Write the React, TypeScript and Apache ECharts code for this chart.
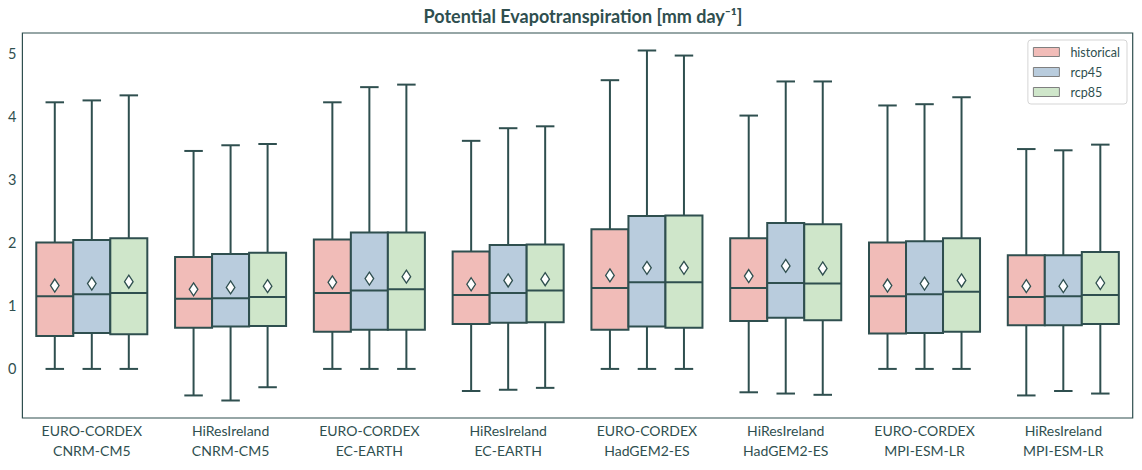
import React, { useEffect, useRef } from 'react';
import * as echarts from 'echarts';

const categories = [
  'EURO-CORDEX\nCNRM-CM5',
  'HiResIreland\nCNRM-CM5',
  'EURO-CORDEX\nEC-EARTH',
  'HiResIreland\nEC-EARTH',
  'EURO-CORDEX\nHadGEM2-ES',
  'HiResIreland\nHadGEM2-ES',
  'EURO-CORDEX\nMPI-ESM-LR',
  'HiResIreland\nMPI-ESM-LR',
];

const hues = ['historical', 'rcp45', 'rcp85'];
const hueColors = ['#f1bcb8', '#b9ccdd', '#cfe6ca'];

// [lower whisker, q1, median, q3, upper whisker]
const historicalBoxes = [
  [0.0, 0.52, 1.15, 2.0, 4.22],
  [-0.42, 0.65, 1.11, 1.77, 3.45],
  [0.0, 0.59, 1.2, 2.05, 4.22],
  [-0.35, 0.71, 1.17, 1.86, 3.61],
  [0.0, 0.62, 1.28, 2.21, 4.57],
  [-0.37, 0.76, 1.28, 2.07, 4.01],
  [0.0, 0.56, 1.15, 2.0, 4.17],
  [-0.42, 0.69, 1.14, 1.8, 3.48],
];
const rcp45Boxes = [
  [0.0, 0.57, 1.18, 2.04, 4.25],
  [-0.5, 0.67, 1.12, 1.82, 3.54],
  [0.0, 0.62, 1.24, 2.16, 4.46],
  [-0.33, 0.73, 1.2, 1.96, 3.81],
  [0.0, 0.67, 1.37, 2.42, 5.04],
  [-0.39, 0.81, 1.36, 2.31, 4.55],
  [0.0, 0.57, 1.18, 2.02, 4.19],
  [-0.35, 0.69, 1.15, 1.8, 3.46],
];
const rcp85Boxes = [
  [0.0, 0.55, 1.2, 2.07, 4.33],
  [-0.29, 0.68, 1.14, 1.84, 3.56],
  [0.0, 0.62, 1.26, 2.16, 4.5],
  [-0.3, 0.74, 1.24, 1.97, 3.84],
  [0.0, 0.65, 1.37, 2.43, 4.96],
  [-0.41, 0.77, 1.35, 2.29, 4.55],
  [0.0, 0.59, 1.22, 2.07, 4.3],
  [-0.39, 0.71, 1.17, 1.85, 3.55],
];

const historicalMeans = [1.32, 1.26, 1.37, 1.34, 1.48, 1.47, 1.32, 1.31];
const rcp45Means = [1.35, 1.29, 1.43, 1.4, 1.6, 1.63, 1.35, 1.31];
const rcp85Means = [1.38, 1.31, 1.46, 1.42, 1.6, 1.59, 1.4, 1.36];

const yMin = -0.777;
const yMax = 5.317;

const LINE = '#2f4f4f';
const FONT = 'Lato, "Noto Sans", sans-serif';

const boxSets = [historicalBoxes, rcp45Boxes, rcp85Boxes];
const meanSets = [historicalMeans, rcp45Means, rcp85Means];

function makeSeries(hueIdx: number) {
  const boxes = boxSets[hueIdx];
  const means = meanSets[hueIdx];
  const data = categories.map((_, i) => [i, ...boxes[i], means[i]]);
  return {
    type: 'custom',
    name: hues[hueIdx],
    itemStyle: { color: hueColors[hueIdx] },
    encode: { x: 0, y: [1, 2, 3, 4, 5, 6] },
    data,
    renderItem: (params: any, api: any) => {
      const cat = api.value(0);
      const lo = api.value(1);
      const q1 = api.value(2);
      const med = api.value(3);
      const q3 = api.value(4);
      const hi = api.value(5);
      const mean = api.value(6);
      const band = api.size([1, 0])[0];
      const bw = (band * 0.8) / hues.length;
      const cx = api.coord([cat, 0])[0] + (hueIdx - (hues.length - 1) / 2) * bw;
      const y = (v: number) => api.coord([cat, v])[1];
      const stroke = { stroke: LINE, lineWidth: 2 };
      const cap = bw / 4;
      const yq1 = y(q1);
      const yq3 = y(q3);
      const ym = y(mean);
      const dw = 4.3;
      const dh = 6.5;
      return {
        type: 'group',
        children: [
          { type: 'line', shape: { x1: cx, y1: yq1, x2: cx, y2: y(lo) }, style: stroke },
          { type: 'line', shape: { x1: cx, y1: yq3, x2: cx, y2: y(hi) }, style: stroke },
          { type: 'line', shape: { x1: cx - cap, y1: y(lo), x2: cx + cap, y2: y(lo) }, style: stroke },
          { type: 'line', shape: { x1: cx - cap, y1: y(hi), x2: cx + cap, y2: y(hi) }, style: stroke },
          {
            type: 'rect',
            shape: { x: cx - bw / 2, y: yq3, width: bw, height: yq1 - yq3 },
            style: { fill: hueColors[hueIdx], stroke: LINE, lineWidth: 2 },
          },
          { type: 'line', shape: { x1: cx - bw / 2, y1: y(med), x2: cx + bw / 2, y2: y(med) }, style: stroke },
          {
            type: 'polygon',
            shape: {
              points: [
                [cx, ym - dh],
                [cx + dw, ym],
                [cx, ym + dh],
                [cx - dw, ym],
              ],
            },
            style: { fill: '#ffffff', stroke: LINE, lineWidth: 1.3 },
          },
        ],
      };
    },
  };
}

export default function App() {
  const ref = useRef<HTMLDivElement>(null);
  useEffect(() => {
    document.body.style.margin = '0';
    if (!ref.current) return;
    const chart = echarts.init(ref.current, null, { renderer: 'svg' });
    chart.setOption({
      animation: false,
      backgroundColor: '#ffffff',
      title: {
        text: 'Potential Evapotranspiration [mm day\u207B\u00B9]',
        left: 578,
        textAlign: 'center',
        top: 2,
        textStyle: { fontFamily: FONT, fontSize: 18, fontWeight: 'bold', color: LINE },
      },
      legend: {
        orient: 'vertical',
        right: 15,
        top: 40,
        icon: 'rect',
        itemWidth: 26,
        itemHeight: 9,
        itemGap: 6,
        padding: [5, 7, 5, 5],
        backgroundColor: '#ffffff',
        borderColor: '#d5d5d5',
        borderWidth: 1,
        borderRadius: 3,
        textStyle: { fontFamily: FONT, fontSize: 12.5, color: LINE, lineHeight: 14, padding: [0, 0, 0, 6] },
        data: hues.map((h, i) => ({
          name: h,
          itemStyle: { color: hueColors[i], borderColor: '#7f7f7f', borderWidth: 1 },
        })),
      },
      grid: {
        left: 22.4,
        right: 9.3,
        top: 33,
        bottom: 52,
        show: true,
        borderColor: LINE,
        borderWidth: 1.2,
        backgroundColor: 'transparent',
      },
      xAxis: {
        type: 'category',
        data: categories,
        axisLine: { show: false },
        axisTick: { show: false },
        splitLine: { show: false },
        axisLabel: {
          interval: 0,
          fontFamily: FONT,
          fontSize: 14,
          lineHeight: 20,
          color: LINE,
          margin: 2,
        },
      },
      yAxis: {
        type: 'value',
        min: yMin,
        max: yMax,
        axisLine: { show: false },
        axisTick: { show: false },
        splitLine: { show: false },
        axisLabel: {
          fontFamily: FONT,
          fontSize: 14.5,
          color: LINE,
          margin: 6,
          formatter: (v: number) =>
            Math.abs(v - Math.round(v)) < 1e-6 ? String(Math.round(v)) : '',
        },
      },
      series: hues.map((_, i) => makeSeries(i)),
    });
    return () => chart.dispose();
  }, []);
  return <div ref={ref} style={{ width: 1142, height: 470 }} />;
}
